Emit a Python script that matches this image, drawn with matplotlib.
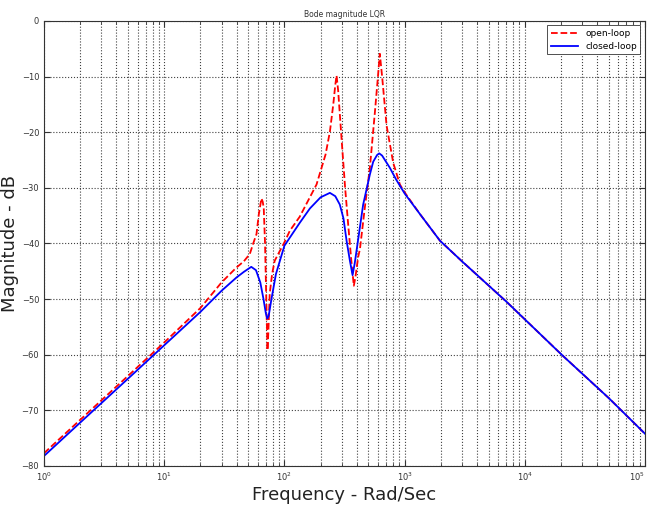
import matplotlib
matplotlib.use('Agg')
import matplotlib.pyplot as plt
import numpy as np

# closed-loop (blue)
freq_cl = [1, 2, 5, 10, 20, 30, 40, 46, 53, 58, 63, 67, 70, 72, 74, 78, 85, 100,
           134, 163, 200, 239, 265, 289, 310, 329, 350, 369, 385, 400, 452, 514,
           548, 590, 615, 650, 700, 754, 850, 1000, 1340, 1968, 3000, 7063, 20270,
           50000, 100000]
mag_cl = [-78.2, -72.2, -64.3, -58.3, -52.3, -48.5, -46.1, -45.1, -44.2, -44.8,
          -47.0, -50.0, -52.5, -53.5, -53.0, -50.0, -45.5, -40.4,
          -36.3, -33.7, -31.7, -30.9, -31.5, -33.0, -35.5, -39.5, -43.0, -45.7,
          -43.5, -41.0, -33.0, -27.6, -25.3, -24.1, -23.8, -24.2, -25.3, -26.4,
          -28.5, -31.0, -34.7, -39.5, -43.2, -50.5, -60.0, -67.8, -74.2]

# open-loop (red)
freq_ol = [1, 2, 5, 10, 20, 30, 40, 46, 51.5, 55, 58.6, 61.2, 64.4, 66, 67.3, 69,
           71, 72.3, 73.5, 75.5, 79, 83, 100, 111, 134, 185, 220, 239, 255, 265,
           271.5, 280, 300, 320, 339, 360, 378, 390, 411, 425, 467, 514, 566, 600,
           622, 650, 708, 804, 914, 1000, 1340, 1968, 3000, 7063, 20270, 50000,
           100000]
mag_ol = [-77.7, -71.7, -63.8, -57.8, -51.6, -47.0, -44.3, -43.2, -41.9, -40.0,
          -38.3, -34.8, -31.9, -32.5, -33.6, -40.0, -52.0, -59.2, -56.0, -49.0,
          -45.5, -43.1, -39.8, -37.7, -35.2, -29.4, -24.0, -19.9, -15.0, -11.5,
          -9.8, -12.5, -21.7, -30.0, -36.5, -43.0, -47.6, -46.0, -42.4, -41.0,
          -33.5, -26.4, -16.4, -10.0, -5.9, -10.0, -18.8, -25.5, -29.4, -30.8,
          -34.7, -39.5, -43.2, -50.5, -60.0, -67.8, -74.2]

fig = plt.figure(figsize=(6.51, 5.08), dpi=100)
ax = fig.add_axes([0.0676, 0.0827, 0.9232, 0.876])

ax.semilogx(freq_ol, mag_ol, color='#ff0000', linestyle='--', linewidth=1.3,
            label='open-loop')
ax.semilogx(freq_cl, mag_cl, color='#0000ff', linestyle='-', linewidth=1.3,
            label='closed-loop')

ax.set_xlim(1, 1e5)
ax.set_ylim(-80, 0)
ax.set_yticks(np.arange(-80, 1, 10))

ax.grid(True, which='major', axis='both', linestyle=':', color='#404040', linewidth=0.8)
ax.grid(True, which='minor', axis='x', linestyle=':', color='#404040', linewidth=0.8)
ax.tick_params(which='both', direction='in', top=True, right=True, labelsize=6,
               colors='#333333')
ax.tick_params(which='major', length=4)
ax.tick_params(which='minor', length=2.5)
for s in ax.spines.values():
    s.set_color('#333333')

ax.set_title('Bode magnitude LQR', fontsize=5.5, color='#333333', pad=3)
ax.set_xlabel('Frequency - Rad/Sec', fontsize=13, color='#222222', labelpad=2)
ax.set_ylabel('Magnitude - dB', fontsize=13, color='#222222', labelpad=2)

leg = ax.legend(loc='upper right', fontsize=6.5, fancybox=False, framealpha=1,
                edgecolor='#333333', handlelength=3, borderpad=0.4, labelspacing=0.4)
leg.get_frame().set_linewidth(0.6)

# keep the last decade label inside the figure
fig.canvas.draw()
ax.get_xticklabels()[-1].set_horizontalalignment('right')
for lab in ax.get_xticklabels():
    if lab.get_text().endswith('{5}}$'):
        lab.set_horizontalalignment('right')

fig.savefig('out.png', dpi=100)
